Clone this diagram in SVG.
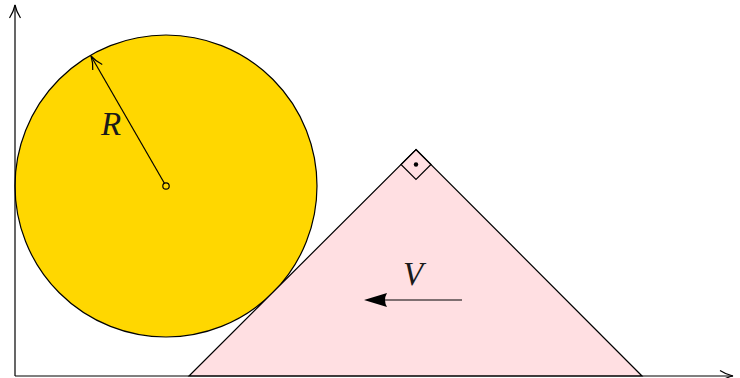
<svg xmlns="http://www.w3.org/2000/svg" width="740" height="378" viewBox="0 0 740 378">
<style>
.ln{stroke:#000;stroke-width:1.2;fill:none}
.lbl{font-family:"Liberation Serif",serif;font-style:italic;font-size:33px;fill:#1a1a1a}
</style>
<defs>
<marker id="open" markerWidth="16" markerHeight="14" refX="14" refY="7" orient="auto" markerUnits="userSpaceOnUse">
<path d="M1,1.5 Q7,5.5 14,7 Q7,8.5 1,12.5" fill="none" stroke="#000" stroke-width="1.2"/>
</marker>
</defs>
<rect width="740" height="378" fill="#fff"/>
<g id="ball">
<circle cx="166" cy="186" r="151" fill="#ffd700" stroke="#000" stroke-width="1.2"/>
<circle cx="166" cy="186" r="3.2" fill="none" stroke="#000" stroke-width="1.2"/>
</g>
<g id="wedge">
<polygon points="189,376 416,149.5 642,376" fill="#ffdfe2" stroke="#000" stroke-width="1.2"/>
<polygon points="416,149.5 431,164.5 416,179.5 401,164.5" fill="none" stroke="#000" stroke-width="1.2"/>
<circle cx="416" cy="164.5" r="2.2" fill="#000"/>
</g>
<g id="connectors">
<line class="ln" x1="15" y1="376" x2="15" y2="5" marker-end="url(#open)"/>
<line class="ln" x1="15" y1="376" x2="733" y2="376" marker-end="url(#open)"/>
<line class="ln" x1="164.4" y1="183.2" x2="91" y2="56" marker-end="url(#open)"/>
<line class="ln" x1="462" y1="300" x2="384" y2="300"/>
<path d="M364,300 L387,293 Q383,300 387,307 Z" fill="#000"/>
</g>
<g id="labels">
<text class="lbl" x="111" y="135" text-anchor="middle">R</text>
<text class="lbl" x="413" y="285" text-anchor="middle">V</text>
</g>
</svg>
